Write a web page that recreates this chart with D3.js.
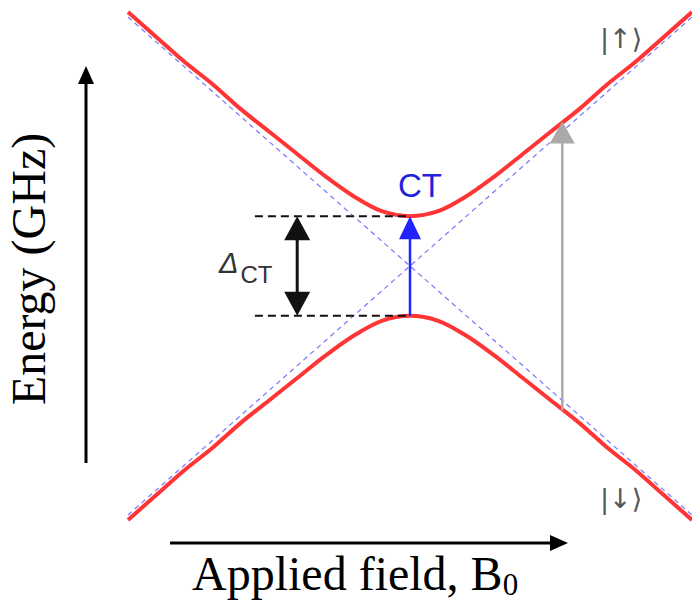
<!DOCTYPE html>
<html>
<head>
<meta charset="utf-8">
<script src="https://cdnjs.cloudflare.com/ajax/libs/d3/7.8.5/d3.min.js"></script>
<style>
body { margin: 0; background: #fff; }
svg { display: block; }
</style>
</head>
<body>
<div id="chart"></div>
<script>
// field values (arb. units) and the two branch energies
var field = [-1.0, -0.9, -0.8, -0.7, -0.6, -0.5, -0.4, -0.3, -0.2, -0.1, 0,
  0.1, 0.2, 0.3, 0.4, 0.5, 0.6, 0.7, 0.8, 0.9, 1.0]
var upper = [1.02, 0.92, 0.82, 0.73, 0.63, 0.54, 0.45, 0.36, 0.28, 0.22, 0.20,
  0.22, 0.28, 0.36, 0.45, 0.54, 0.63, 0.73, 0.82, 0.92, 1.02]
var lower = [-1.02, -0.92, -0.82, -0.73, -0.63, -0.54, -0.45, -0.36, -0.28, -0.22, -0.20,
  -0.22, -0.28, -0.36, -0.45, -0.54, -0.63, -0.73, -0.82, -0.92, -1.02]

// uncoupled (diabatic) states
var asymField = [-1, 1]
var asymUp = [-1, 1]
var asymDown = [1, -1]

// gap and transitions
var gapLevels = [-0.20, 0.20]
var gapLineField = [-0.55, 0]
var gapArrowField = -0.40
var ctField = 0
var grayField = 0.54
var grayLevels = [-0.58, 0.58]

var labels = {x: 'Applied field, B', xSub: '0', y: 'Energy (GHz)', ct: 'CT', delta: 'Δ', deltaSub: 'CT',
  up: '|↑⟩', down: '|↓⟩'}

var W = 692, H = 601
var svg = d3.select('#chart').append('svg').attr('width', W).attr('height', H)

var x = d3.scaleLinear().domain([-1, 1]).range([128, 692])
var y = d3.scaleLinear().domain([-1, 1]).range([515, 17])

var line = d3.line().x(d => x(d[0])).y(d => y(d[1])).curve(d3.curveCatmullRom)

// dashed asymptotes
;[asymUp, asymDown].forEach(function(e){
  svg.append('path')
    .attr('d', line(d3.zip(asymField, e)))
    .attr('fill', 'none').attr('stroke', '#7777ff')
    .attr('stroke-width', 1.2).attr('stroke-dasharray', '5,4')
})

// avoided crossing branches
;[upper, lower].forEach(function(e){
  svg.append('path')
    .attr('d', line(d3.zip(field, e)))
    .attr('fill', 'none').attr('stroke', '#ff3535')
    .attr('stroke-width', 4)
})

// gap guide lines
gapLevels.forEach(function(e){
  svg.append('line')
    .attr('x1', x(gapLineField[0])).attr('x2', x(gapLineField[1]))
    .attr('y1', y(e)).attr('y2', y(e))
    .attr('stroke', '#111').attr('stroke-width', 2).attr('stroke-dasharray', '8,5')
})

function head(px, py, dir, w, len, color){
  // dir: -1 points up, +1 points down, 'r' points right
  var d
  if (dir == 'r') d = 'M' + px + ',' + py + 'L' + (px - len) + ',' + (py - w / 2) + 'L' + (px - len) + ',' + (py + w / 2) + 'Z'
  else d = 'M' + px + ',' + py + 'L' + (px - w / 2) + ',' + (py - dir * len) + 'L' + (px + w / 2) + ',' + (py - dir * len) + 'Z'
  svg.append('path').attr('d', d).attr('fill', color)
}

// double arrow for the gap
var gx = x(gapArrowField)
svg.append('line').attr('x1', gx).attr('x2', gx)
  .attr('y1', y(gapLevels[1]) + 15).attr('y2', y(gapLevels[0]) - 15)
  .attr('stroke', '#111').attr('stroke-width', 3)
head(gx, y(gapLevels[1]), -1, 26, 24, '#111')
head(gx, y(gapLevels[0]), 1, 26, 24, '#111')

// CT transition
var cx = x(ctField)
svg.append('line').attr('x1', cx).attr('x2', cx)
  .attr('y1', y(gapLevels[0])).attr('y2', y(gapLevels[1]) + 15)
  .attr('stroke', '#2222ff').attr('stroke-width', 2.5)
head(cx, y(gapLevels[1]), -1, 22, 23, '#2222ff')

// gray transition
var rx = x(grayField)
svg.append('line').attr('x1', rx).attr('x2', rx)
  .attr('y1', y(grayLevels[0])).attr('y2', y(grayLevels[1]) + 15)
  .attr('stroke', '#aaaaaa').attr('stroke-width', 2.5)
head(rx, y(grayLevels[1]), -1, 25, 22, '#aaaaaa')

// texts
svg.append('text').text(labels.ct)
  .attr('x', cx + 10).attr('y', 197).attr('text-anchor', 'middle')
  .attr('font-family', 'Liberation Sans, Arial, sans-serif').attr('font-size', 33)
  .attr('fill', '#2222dd')

var dt = svg.append('text').attr('x', 219).attr('y', 273)
  .attr('font-family', 'Liberation Sans, Arial, sans-serif').attr('fill', '#333')
dt.append('tspan').text(labels.delta).attr('font-size', 29).attr('font-style', 'italic')
dt.append('tspan').text(labels.deltaSub).attr('font-size', 24).attr('dy', 10).attr('dx', 2)

svg.append('text').text(labels.up)
  .attr('x', 600).attr('y', 48)
  .attr('font-family', 'DejaVu Sans, sans-serif').attr('font-size', 27)
  .attr('fill', '#555')
svg.append('text').text(labels.down)
  .attr('x', 600).attr('y', 508)
  .attr('font-family', 'DejaVu Sans, sans-serif').attr('font-size', 27)
  .attr('fill', '#555')

// axes (arrows only)
svg.append('line').attr('x1', 86).attr('x2', 86).attr('y1', 463).attr('y2', 80)
  .attr('stroke', '#000').attr('stroke-width', 3)
head(86, 66, -1, 16, 18, '#000')
svg.append('line').attr('x1', 170).attr('x2', 555).attr('y1', 543).attr('y2', 543)
  .attr('stroke', '#000').attr('stroke-width', 3)
head(568, 543, 'r', 16, 18, '#000')

var xl = svg.append('text').attr('x', 192).attr('y', 590)
  .attr('font-family', 'Liberation Serif, Times New Roman, serif').attr('font-size', 48)
xl.append('tspan').text(labels.x)
xl.append('tspan').text(labels.xSub).attr('font-size', 31).attr('dy', 5)

svg.append('text').text(labels.y)
  .attr('transform', 'translate(45,269) rotate(-90)')
  .attr('text-anchor', 'middle')
  .attr('font-family', 'Liberation Serif, Times New Roman, serif').attr('font-size', 48)
</script>
</body>
</html>
